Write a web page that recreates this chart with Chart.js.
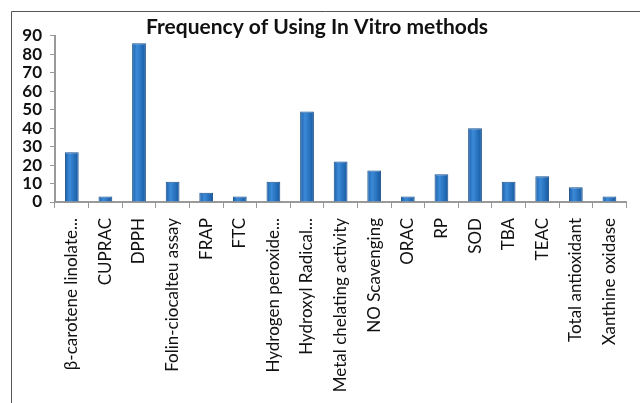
<!DOCTYPE html>
<html>
<head>
<meta charset="utf-8">
<script src="https://cdn.jsdelivr.net/npm/chart.js@4"></script>
<style>
  html, body { margin: 0; padding: 0; background: #fff; }
  #wrap { position: relative; width: 640px; height: 403px; }
</style>
</head>
<body>
<div id="wrap"><canvas id="myChart" width="640" height="403"></canvas></div>
<script>
// data
const methods = [
    'β-carotene linolate...', 'CUPRAC', 'DPPH', 'Folin-ciocalteu assay', 'FRAP', 'FTC',
    'Hydrogen peroxide...', 'Hydroxyl Radical...', 'Metal chelating activity', 'NO Scavenging',
    'ORAC', 'RP', 'SOD', 'TBA', 'TEAC', 'Total antioxidant', 'Xanthine oxidase'
];
const frequency = [27, 3, 86, 11, 5, 3, 11, 49, 22, 17, 3, 15, 40, 11, 14, 8, 3];
const yTicks = [0, 10, 20, 30, 40, 50, 60, 70, 80, 90];

// thin frame along the top and left edge, like the cropped figure border
const framePlugin = {
    id: 'frame',
    beforeDraw: function (chart) {
        const c = chart.ctx;
        c.save();
        c.strokeStyle = '#555';
        c.lineWidth = 1;
        c.beginPath();
        c.moveTo(11.5, 403);
        c.lineTo(11.5, 11.5);
        c.lineTo(640, 11.5);
        c.stroke();
        c.restore();
    }
};

function barFill(context) {
    const chart = context.chart;
    if (!chart.chartArea) return '#1f6cbf';
    const x = chart.scales.x.getPixelForValue(context.dataIndex);
    const g = chart.ctx.createLinearGradient(x - 7, 0, x + 7, 0);
    g.addColorStop(0, '#1a5ea8');
    g.addColorStop(0.35, '#3b8ad8');
    g.addColorStop(1, '#1558a0');
    return g;
}

var ctx = document.getElementById('myChart').getContext('2d');
var myChart = new Chart(ctx, {
    type: 'bar',
    data: {
        labels: methods,
        datasets: [{
            data: frequency,
            backgroundColor: barFill,
            borderColor: '#174f8a',
            borderWidth: 1,
            barPercentage: 0.82,
            categoryPercentage: 0.5
        }]
    },
    options: {
        responsive: false,
        animation: false,
        layout: { padding: { left: 0, right: 6, top: 0, bottom: 0 } },
        plugins: {
            legend: { display: false },
            tooltip: { enabled: false },
            title: {
                display: true,
                text: 'Frequency of Using In Vitro methods',
                color: '#111',
                font: { family: 'Lato', size: 21, weight: 'bold', lineHeight: 0.85 },
                padding: { top: 18, bottom: 0 }
            }
        },
        scales: {
            x: {
                grid: { drawOnChartArea: false, tickLength: 6, color: '#999', offset: true },
                border: { color: '#999', width: 2 },
                ticks: {
                    autoSkip: false,
                    minRotation: 90,
                    maxRotation: 90,
                    padding: 10,
                    color: '#111',
                    font: { family: 'Lato', size: 17 }
                },
                afterFit: function (scale) { scale.height = 201; }
            },
            y: {
                min: 0,
                max: 90,
                afterBuildTicks: function (scale) {
                    scale.ticks = yTicks.map(v => ({ value: v }));
                },
                grid: { drawOnChartArea: false, tickLength: 5, color: '#999' },
                border: { color: '#999', width: 2 },
                ticks: {
                    autoSkip: false,
                    stepSize: 10,
                    color: '#111',
                    padding: 8,
                    font: { family: 'Lato', size: 17, weight: 'bold' }
                },
                afterFit: function (scale) { scale.width = 55; }
            }
        }
    },
    plugins: [framePlugin]
});
</script>
</body>
</html>
